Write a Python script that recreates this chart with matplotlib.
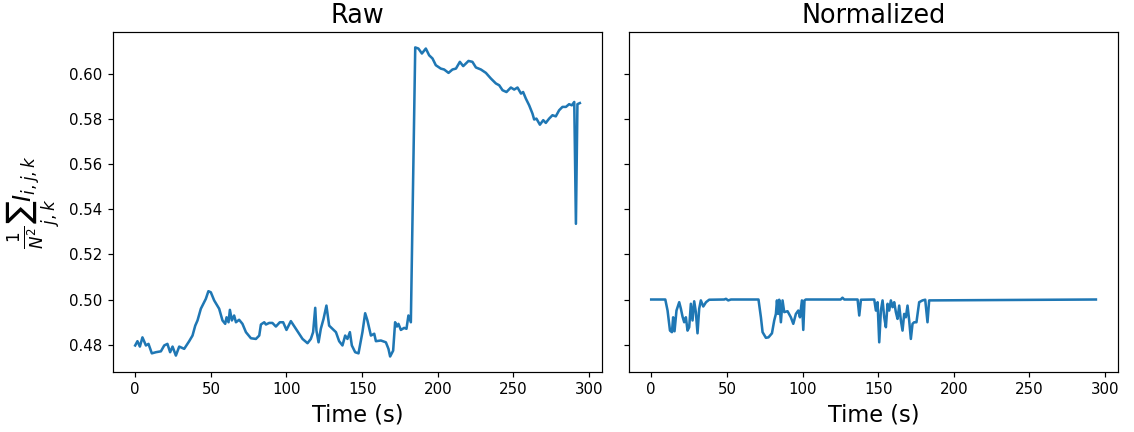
import numpy as np
import matplotlib.pyplot as plt

# mean intensity over time, raw frames
t_raw = [0, 1.5, 3.1, 4.8, 7.1, 8.8, 11.0, 13.7, 17.0, 19.2, 21.3, 23.1, 24.7, 26.9,
         29.1, 32.4, 35.7, 37.9, 39.7, 41.2, 43.4, 46.7, 48.4, 50.0, 52.2, 55.5, 57.7,
         59.5, 60.4, 61.7, 62.6, 63.9, 65.4, 66.6, 68.7, 70.9, 73.2, 76.5, 79.8, 82.0,
         83.1, 85.3, 86.4, 88.6, 90.7, 93.0, 95.6, 97.8, 100.0, 102.9, 106.2, 110.6,
         113.9, 116.1, 117.6, 119.0, 119.8, 121.2, 122.7, 124.5, 126.4, 128.2, 130.4,
         132.7, 134.8, 137.0, 138.8, 140.3, 141.9, 143.2, 145.4, 147.6, 150.2, 152.0,
         153.5, 155.8, 158.0, 159.1, 162.4, 165.7, 167.4, 168.5, 170.5, 171.8, 173.0,
         174.0, 175.6, 177.8, 179.3, 180.6, 182.2, 185.1, 187.2, 189.5, 192.1, 194.3,
         196.5, 198.7, 202.0, 204.2, 207.1, 209.7, 212.0, 214.6, 216.8, 220.3, 222.9,
         225.2, 228.5, 231.8, 235.1, 238.4, 240.6, 242.8, 245.4, 248.3, 250.5, 252.7,
         255.0, 256.4, 258.2, 260.4, 262.6, 263.7, 265.2, 267.5, 269.7, 271.4, 273.6,
         275.8, 278.0, 280.2, 282.4, 284.7, 286.8, 288.6, 290.2, 291.3, 292.3, 293.9]
raw = [0.4796, 0.4815, 0.4791, 0.4832, 0.4796, 0.4803, 0.4761, 0.4766, 0.4770, 0.4796,
       0.4803, 0.4766, 0.4791, 0.4751, 0.4791, 0.4781, 0.4815, 0.4840, 0.4884, 0.4907,
       0.4959, 0.5003, 0.5037, 0.5032, 0.4996, 0.4959, 0.4907, 0.4892, 0.4921, 0.4899,
       0.4954, 0.4907, 0.4929, 0.4899, 0.4910, 0.4892, 0.4855, 0.4828, 0.4825, 0.4840,
       0.4889, 0.4899, 0.4889, 0.4896, 0.4896, 0.4880, 0.4899, 0.4899, 0.4865, 0.4904,
       0.4870, 0.4825, 0.4806, 0.4825, 0.4855, 0.4963, 0.4862, 0.4810, 0.4870, 0.4914,
       0.4973, 0.4884, 0.4870, 0.4855, 0.4815, 0.4796, 0.4840, 0.4825, 0.4855, 0.4796,
       0.4766, 0.4761, 0.4855, 0.4939, 0.4907, 0.4840, 0.4848, 0.4815, 0.4818, 0.4810,
       0.4781, 0.4747, 0.4773, 0.4899, 0.4880, 0.4892, 0.4865, 0.4874, 0.4870, 0.4929,
       0.4899, 0.6119, 0.6114, 0.6092, 0.6114, 0.6084, 0.6070, 0.6040, 0.6025, 0.6021,
       0.6006, 0.6021, 0.6025, 0.6055, 0.6036, 0.6059, 0.6055, 0.6030, 0.6021, 0.6006,
       0.5981, 0.5959, 0.5951, 0.5929, 0.5921, 0.5941, 0.5932, 0.5941, 0.5914, 0.5921,
       0.5892, 0.5862, 0.5825, 0.5799, 0.5803, 0.5776, 0.5796, 0.5784, 0.5803, 0.5818,
       0.5813, 0.5840, 0.5855, 0.5855, 0.5867, 0.5862, 0.5877, 0.5336, 0.5867, 0.5872]

# after per-frame normalisation
t_norm = [0, 9.3, 10.8, 12.4, 13.7, 14.5, 15.4, 16.7, 18.5, 19.6, 20.7, 21.8, 22.9,
          24.0, 25.1, 26.2, 27.3, 28.4, 29.5, 30.6, 31.7, 32.8, 34.4, 36.2, 38.3, 48.2,
          49.4, 50.9, 52.7, 70.9, 72.5, 73.6, 75.8, 77.5, 79.8, 81.3, 82.4, 83.1, 83.9,
          84.6, 85.7, 86.8, 87.9, 90.1, 92.3, 93.9, 95.6, 97.2, 98.3, 99.6, 100.5, 101.3,
          102.2, 125.2, 126.4, 127.6, 136.4, 137.5, 138.6, 147.4, 148.5, 149.6, 150.7,
          151.8, 152.9, 154.0, 155.1, 156.2, 157.3, 158.4, 159.5, 160.6, 161.7, 162.8,
          163.9, 165.0, 166.1, 167.2, 168.3, 169.4, 170.5, 171.6, 172.7, 173.8, 175.3,
          177.1, 179.3, 181.1, 182.6, 183.7, 293.9]
norm = [0.5, 0.5, 0.4951, 0.4862, 0.4855, 0.4921, 0.4859, 0.4951, 0.4988, 0.4959,
        0.4924, 0.4899, 0.4921, 0.4862, 0.4877, 0.4981, 0.4907, 0.4992, 0.4944, 0.4850,
        0.4959, 0.4996, 0.4969, 0.4988, 0.4999, 0.5, 0.5003, 0.4996, 0.5, 0.5, 0.4921,
        0.4855, 0.4830, 0.4832, 0.4850, 0.4907, 0.4936, 0.4996, 0.4936, 0.4999, 0.4899,
        0.4996, 0.4944, 0.4948, 0.4921, 0.4892, 0.4936, 0.4951, 0.4921, 0.4996, 0.4865,
        0.4996, 0.5, 0.5, 0.5008, 0.5, 0.5, 0.4929, 0.4999, 0.5, 0.4951, 0.4988, 0.4810,
        0.4951, 0.4996, 0.4921, 0.4877, 0.4981, 0.4951, 0.4996, 0.4966, 0.4988, 0.4944,
        0.4914, 0.4973, 0.4907, 0.4862, 0.4936, 0.4921, 0.4973, 0.4907, 0.4825, 0.4892,
        0.4899, 0.4899, 0.4988, 0.4996, 0.4999, 0.4899, 0.4996, 0.5]

fig, axes = plt.subplots(1, 2, figsize=(10.5, 4), dpi=108, sharey=True)
fig.subplots_adjust(left=0.0996, right=0.986, top=0.926, bottom=0.139, wspace=0.055)

axes[0].plot(t_raw, raw, color='C0', lw=1.7)
axes[0].set_title('Raw', fontsize=17)
axes[0].set_ylabel(r'$\frac{1}{N^2}\sum_{j,k} I_{i,j,k}$', fontsize=16)

axes[1].plot(t_norm, norm, color='C0', lw=1.7)
axes[1].set_title('Normalized', fontsize=17)

for ax in axes:
    ax.set_xlabel('Time (s)', fontsize=15)
    ax.set_xticks([0, 50, 100, 150, 200, 250, 300])

plt.savefig('out.png')
